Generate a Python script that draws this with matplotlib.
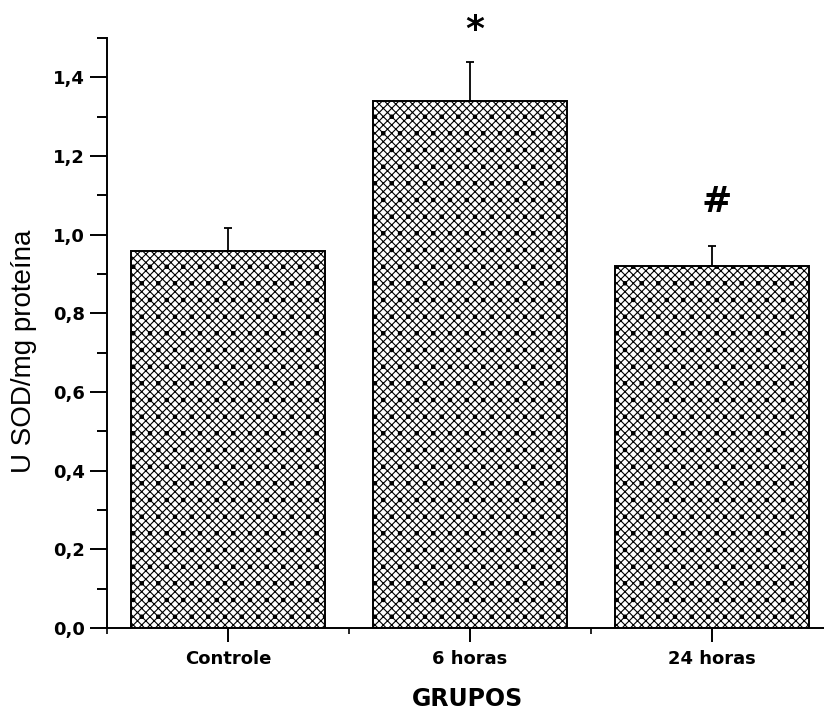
import matplotlib
matplotlib.use("Agg")
import matplotlib.pyplot as plt
from matplotlib.ticker import FixedLocator, FuncFormatter
import numpy as np

groups = ["Controle", "6 horas", "24 horas"]
means = [0.959, 1.341, 0.921]
errors = [0.059, 0.097, 0.051]
marks = ["", "*", "#"]

plt.rcParams["hatch.linewidth"] = 0.8
plt.rcParams["hatch.color"] = "black"

fig = plt.figure(figsize=(8.24, 7.11), dpi=100)
ax = fig.add_axes([107 / 824, 83 / 711, 726 / 824, 590 / 711])

x = np.arange(1, len(groups) + 1)
ax.bar(x, means, width=0.8, facecolor="white", edgecolor="black",
       linewidth=1.4, hatch="xxxx.", zorder=2)
ax.errorbar(x, means, yerr=[np.zeros(len(errors)), errors], fmt="none",
            ecolor="black", elinewidth=1.3, capsize=3, capthick=1.3, zorder=3)

# significance marks above the error bars
offsets = {"*": 0.083, "#": 0.11}
for xi, m, e, s in zip(x, means, errors, marks):
    if s:
        ax.text(xi + 0.02, m + e + offsets[s], s, ha="center", va="center",
                fontsize=26, fontweight="bold", clip_on=False)

ax.set_xlim(0.5, 3.5)
ax.set_ylim(0, 1.5)

for side in ("top", "right"):
    ax.spines[side].set_visible(False)
for side in ("left", "bottom"):
    ax.spines[side].set_linewidth(1.4)

ax.yaxis.set_major_locator(FixedLocator(np.arange(0, 1.41, 0.2)))
ax.yaxis.set_minor_locator(FixedLocator(np.arange(0.1, 1.51, 0.2)))
ax.yaxis.set_major_formatter(FuncFormatter(lambda v, p: f"{v:.1f}".replace(".", ",")))
ax.set_xticks(x)
ax.set_xticklabels(groups)
ax.xaxis.set_minor_locator(FixedLocator([0.5, 1.5, 2.5]))

ax.tick_params(axis="y", which="major", direction="out", length=12, width=1.4, pad=4)
ax.tick_params(axis="y", which="minor", direction="out", length=7, width=1.4)
ax.tick_params(axis="x", which="major", direction="out", length=10, width=1.4, pad=6)
ax.tick_params(axis="x", which="minor", direction="out", length=4, width=1.2)
for lab in ax.get_yticklabels() + ax.get_xticklabels():
    lab.set_fontsize(13)
    lab.set_fontweight("bold")

ax.set_xlabel("GRUPOS", fontsize=17, fontweight="bold")
ax.xaxis.set_label_coords(0.497, -0.1)
ax.xaxis.label.set_va("top")

fig.text(24 / 824, 1 - 351 / 711, "U SOD/mg proteína", rotation=90,
         ha="center", va="center", fontsize=20, family="Liberation Sans")

fig.savefig("out.png", dpi=100)
